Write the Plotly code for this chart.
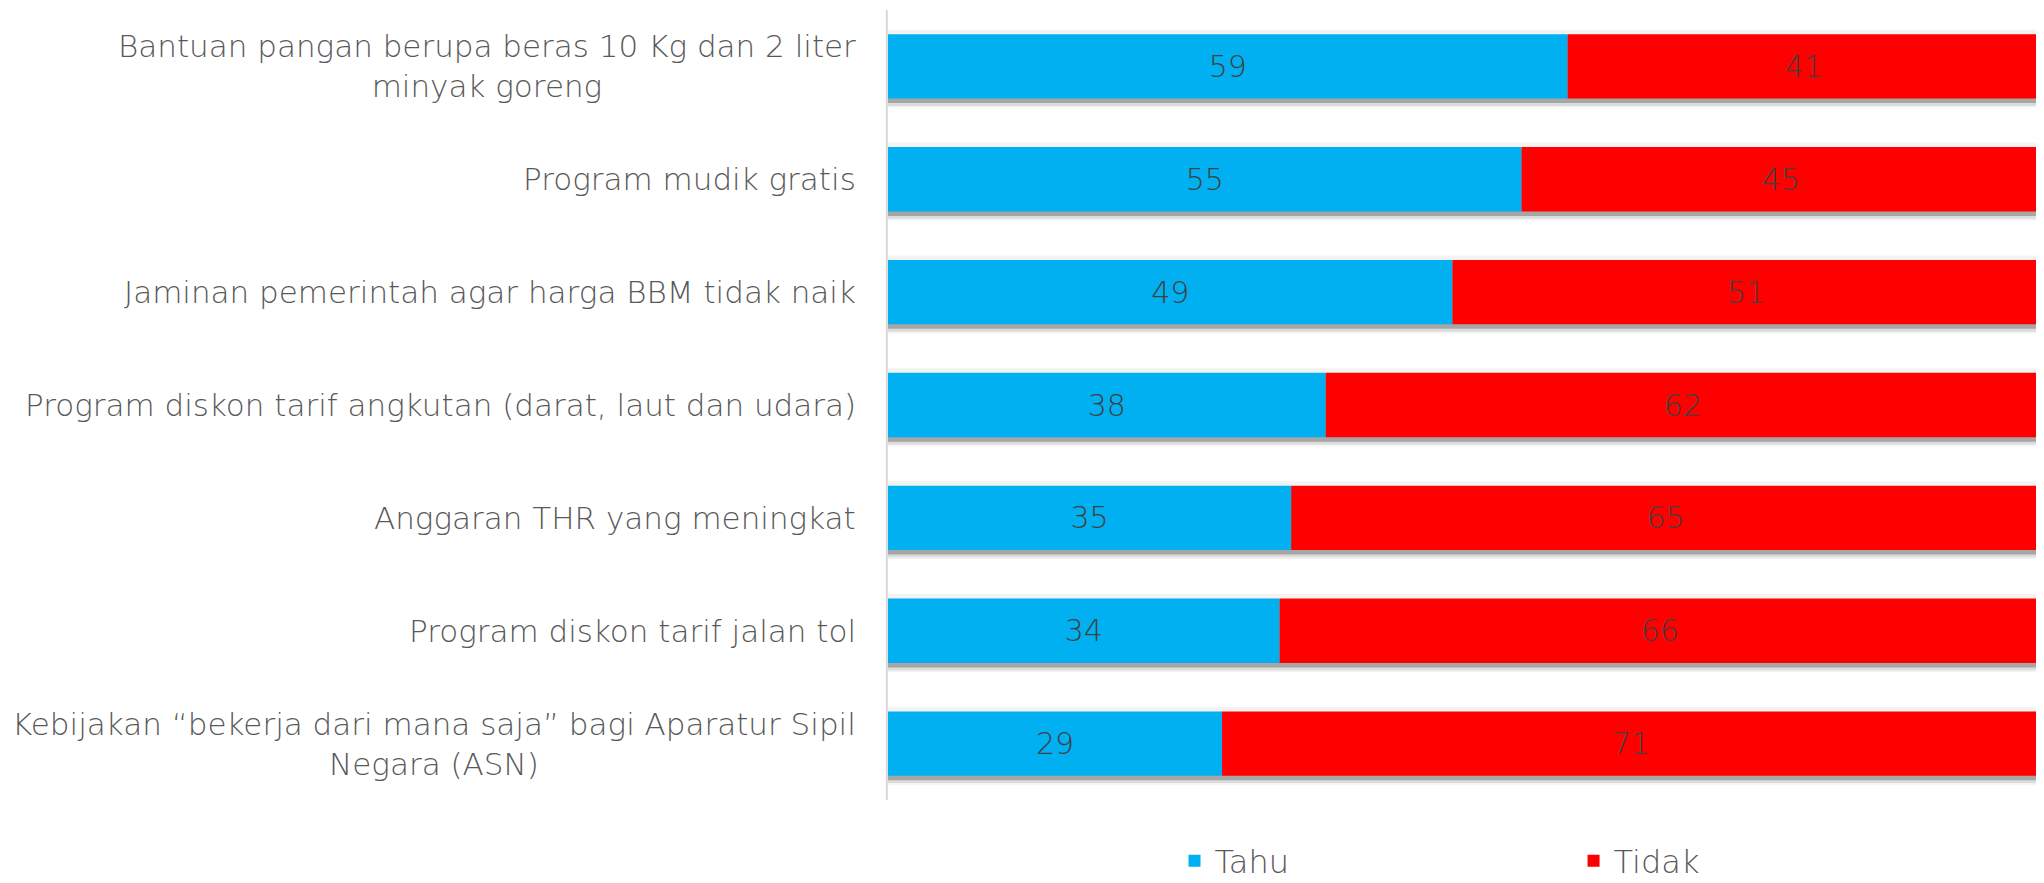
import plotly.graph_objects as go

categories = [
    "Bantuan pangan berupa beras 10 Kg dan 2 liter<br>minyak goreng",
    "Program mudik gratis",
    "Jaminan pemerintah agar harga BBM tidak naik",
    "Program diskon tarif angkutan (darat, laut dan udara)",
    "Anggaran THR yang meningkat",
    "Program diskon tarif jalan tol",
    "Kebijakan \u201cbekerja dari mana saja\u201d bagi Aparatur Sipil<br>Negara (ASN)",
]
tahu = [59, 55, 49, 38, 35, 34, 29]
tidak = [41, 45, 51, 62, 65, 66, 71]

BLUE = "#00B0F0"
RED = "#FF0000"
FONT = "DejaVu Sans"
W = 0.57
ids = list(range(len(categories)))
totals = [a + b for a, b in zip(tahu, tidak)]

fig = go.Figure()
# soft drop shadows
fig.add_trace(go.Bar(y=ids, x=totals, orientation="h", width=W + 0.12,
                     offset=-W / 2 - 0.04, marker=dict(color="#f3f3f3", line_width=0),
                     showlegend=False, hoverinfo="skip"))
fig.add_trace(go.Bar(y=ids, x=totals, orientation="h", width=W + 0.06,
                     offset=-W / 2 + 0.005, marker=dict(color="#dcdcdc", line_width=0),
                     showlegend=False, hoverinfo="skip"))
fig.add_trace(go.Bar(y=ids, x=totals, orientation="h", width=W + 0.02,
                     offset=-W / 2 + 0.02, marker=dict(color="#a6a6a6", line_width=0),
                     showlegend=False, hoverinfo="skip"))
fig.add_trace(go.Bar(y=ids, x=tahu, orientation="h", name="Tahu", width=W,
                     marker=dict(color=BLUE, line_width=0), legend="legend",
                     text=tahu, textposition="inside", insidetextanchor="middle",
                     textfont=dict(family=FONT, size=30, color="#404040", weight=200)))
fig.add_trace(go.Bar(y=ids, x=tidak, base=tahu, orientation="h", name="Tidak", width=W,
                     marker=dict(color=RED, line_width=0), legend="legend2",
                     text=tidak, textposition="inside", insidetextanchor="middle",
                     textfont=dict(family=FONT, size=30, color="#404040", weight=200)))

for i, c in enumerate(categories):
    fig.add_annotation(x=0, xref="paper", xanchor="right", xshift=-30,
                       y=i, yref="y", text=c, showarrow=False, align="center",
                       font=dict(family=FONT, size=31, color="#595959", weight=200))

legfont = dict(family=FONT, size=32, color="#595959", weight=200)
fig.update_layout(
    width=2044, height=883,
    margin=dict(l=880, r=4, t=2, b=91),
    barmode="overlay",
    plot_bgcolor="white", paper_bgcolor="white",
    font=dict(family=FONT, color="#595959"),
    xaxis=dict(range=[0, 100.7], visible=False, fixedrange=True),
    yaxis=dict(showticklabels=False, showgrid=False,
               zeroline=False, showline=False, range=[6.5, -0.5]),
    legend=dict(orientation="h", x=0.247, xanchor="left", y=-0.112, yanchor="bottom",
                font=legfont),
    legend2=dict(orientation="h", x=0.591, xanchor="left", y=-0.112, yanchor="bottom",
                 font=legfont),
    showlegend=True,
    shapes=[dict(type="line", xref="paper", yref="paper", x0=-0.001, x1=-0.001,
                 y0=0, y1=1, line=dict(color="#d9d9d9", width=2))],
)
fig.write_html("out.html")
